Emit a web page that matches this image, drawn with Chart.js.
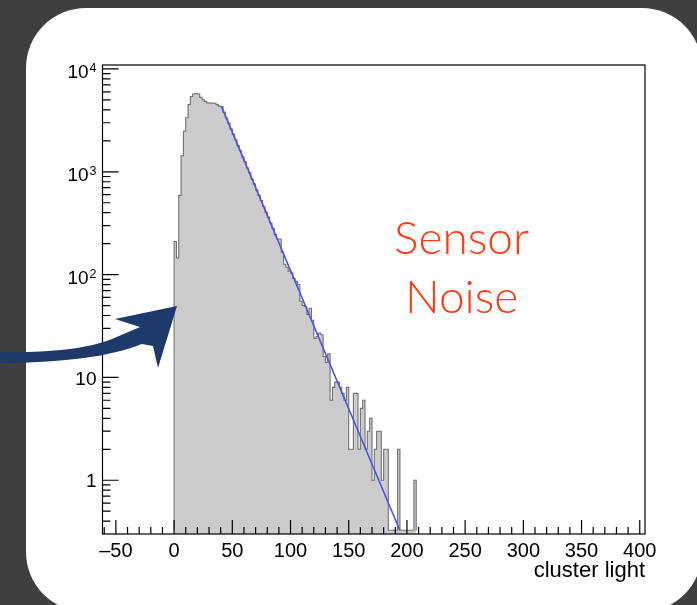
<!DOCTYPE html>
<html>
<head>
<meta charset="utf-8">
<title>cluster light</title>
<script src="https://cdn.jsdelivr.net/npm/chart.js@4.4.1/dist/chart.umd.min.js"></script>
<style>
  html, body { margin: 0; padding: 0; background: #3f3f3f; }
  body { width: 697px; height: 605px; position: relative; overflow: hidden; }
  .panel { position: absolute; left: 26px; top: 8px; width: 676px; height: 604px; background: #fff; border-radius: 60px; }
  #wrap { position: absolute; left: 0; top: 0; width: 697px; height: 605px; }
</style>
</head>
<body>
<div class="panel"></div>
<div id="wrap"><canvas id="hist" width="697" height="605"></canvas></div>
<script>
// histogram binning
const binStart = 0;
const binWidth = 2;
// entries per bin, first bin starts at 0
const counts = [
  210, 145, 590, 1430, 2480, 3350, 4500, 5400, 5700, 5780,
  5700, 5290, 5020, 4840, 4680, 4660, 4650, 4640, 4500, 4350,
  4300, 3800, 3330, 2980, 2600, 2310, 2050, 1790, 1600, 1400,
  1250, 1090, 975, 850, 760, 665, 590, 525, 460, 405,
  362, 318, 282, 245, 222, 222, 165, 126, 118, 108,
  104, 92, 86, 80, 55, 50, 49, 41, 47, 36,
  24, 25, 27, 26, 16, 14, 17, 6, 8, 9,
  9, 8, 7, 6, 8, 2, 2, 7, 7, 2,
  5, 6, 2, 3, 4, 1, 2, 3, 3, 1,
  2, 2, 0, 0, 0, 0, 2, 0, 0, 0,
  0, 0, 0, 1
];

// exponential fit over the falling edge (end points)
const fitX = [40.7, 193.9];
const fitY = [4326, 0.326];

const xRange = [-61.5, 404.5];
const yRange = [0.326, 10930];
const xTickValues = [-50, 0, 50, 100, 150, 200, 250, 300, 350, 400];
const yTickValues = [1, 10, 100, 1000, 10000];
const xTitle = 'cluster light';

const noteLines = ['Sensor', 'Noise'];
const noteX = 247;
const noteY = [160, 42];

const histPoints = [{ x: binStart, y: yRange[0] }];
counts.forEach((c, i) => {
  histPoints.push({ x: binStart + i * binWidth, y: c > 0 ? c : yRange[0] });
});
histPoints.push({ x: binStart + counts.length * binWidth, y: yRange[0] });

const fitPoints = fitX.map((x, i) => ({ x: x, y: fitY[i] }));

const labelFont = '"Liberation Sans", Arial, Helvetica, sans-serif';

// frame, inward ticks, y labels, note and arrow
const decorations = {
  id: 'decorations',
  afterDatasetsDraw(chart) {
    const { ctx, chartArea: a, scales: { x, y } } = chart;
    ctx.save();
    ctx.strokeStyle = '#000';
    ctx.lineWidth = 1.2;
    ctx.strokeRect(a.left, a.top, a.right - a.left, a.bottom - a.top);

    ctx.beginPath();
    for (let v = -60; v <= xRange[1]; v += 10) {
      if (v < xRange[0]) continue;
      const px = x.getPixelForValue(v);
      const len = v % 50 === 0 ? 14 : 7;
      ctx.moveTo(px, a.bottom);
      ctx.lineTo(px, a.bottom - len);
    }
    for (let d = -1; d <= 4; d++) {
      for (let m = 1; m <= 9; m++) {
        const v = m * Math.pow(10, d);
        if (v < yRange[0] || v > yRange[1]) continue;
        const py = y.getPixelForValue(v);
        ctx.moveTo(a.left, py);
        ctx.lineTo(a.left + (m === 1 ? 16 : 8), py);
      }
    }
    ctx.stroke();

    // y labels: 1, 10, then 10^n
    ctx.fillStyle = '#000';
    ctx.textBaseline = 'middle';
    ctx.textAlign = 'right';
    const right = a.left - 6;
    yTickValues.forEach(v => {
      const e = Math.round(Math.log10(v));
      const py = y.getPixelForValue(v);
      if (e < 2) {
        ctx.font = '19px ' + labelFont;
        ctx.fillText(String(v), right, py + 2);
      } else {
        ctx.font = '12.5px ' + labelFont;
        const ew = ctx.measureText(String(e)).width;
        ctx.textBaseline = 'alphabetic';
        ctx.fillText(String(e), right, py + 3.5);
        ctx.font = '19px ' + labelFont;
        ctx.textBaseline = 'middle';
        ctx.fillText('10', right - ew - 1, py + 4);
      }
    });
    ctx.restore();
  },
  afterDraw(chart) {
    const { ctx, scales: { x, y } } = chart;
    ctx.save();
    // hand-drawn arrow pointing at the low edge
    ctx.fillStyle = '#1d3a6a';
    ctx.beginPath();
    ctx.moveTo(-2, 352);
    ctx.bezierCurveTo(40, 353, 85, 350, 112, 339);
    ctx.lineTo(140, 327);
    ctx.lineTo(115, 319);
    ctx.lineTo(177, 306);
    ctx.lineTo(158, 368);
    ctx.lineTo(153, 346);
    ctx.lineTo(142, 344);
    ctx.bezierCurveTo(110, 357, 60, 363, -2, 363);
    ctx.closePath();
    ctx.fill();

    ctx.fillStyle = '#ff3c14';
    ctx.textAlign = 'center';
    ctx.textBaseline = 'alphabetic';
    ctx.font = '300 46px Lato, "Open Sans", sans-serif';
    noteLines.forEach((t, i) => {
      ctx.fillText(t, x.getPixelForValue(noteX), y.getPixelForValue(noteY[i]));
    });
    ctx.restore();
  }
};

new Chart(document.getElementById('hist'), {
  type: 'line',
  data: {
    datasets: [
      {
        data: fitPoints,
        borderColor: '#5252e0',
        borderWidth: 1.6,
        pointRadius: 0,
        fill: false,
        order: 0
      },
      {
        data: histPoints,
        stepped: 'before',
        borderColor: '#707070',
        borderWidth: 1.1,
        backgroundColor: '#cccccc',
        fill: 'start',
        pointRadius: 0,
        order: 1
      }
    ]
  },
  options: {
    responsive: false,
    animation: false,
    events: [],
    layout: { padding: { left: 0, right: 52, top: 65, bottom: 0 } },
    plugins: { legend: { display: false }, tooltip: { enabled: false } },
    scales: {
      x: {
        type: 'linear',
        min: xRange[0],
        max: xRange[1],
        grid: { display: false, drawTicks: false },
        border: { display: false },
        afterBuildTicks: s => { s.ticks = xTickValues.map(v => ({ value: v })); },
        afterFit: s => { s.height = 71; },
        ticks: {
          autoSkip: false,
          maxRotation: 0,
          padding: 5,
          color: '#000',
          font: { family: labelFont, size: 20 },
          callback: v => (v < 0 ? '\u2013' + Math.abs(v) : String(v))
        },
        title: {
          display: true,
          text: xTitle,
          align: 'end',
          color: '#000',
          font: { family: labelFont, size: 22 },
          padding: { top: 0, bottom: 21 }
        }
      },
      y: {
        type: 'logarithmic',
        min: yRange[0],
        max: yRange[1],
        grid: { display: false, drawTicks: false },
        border: { display: false },
        ticks: { display: false },
        afterFit: s => { s.width = 102.5; }
      }
    }
  },
  plugins: [decorations]
});
</script>
</body>
</html>
